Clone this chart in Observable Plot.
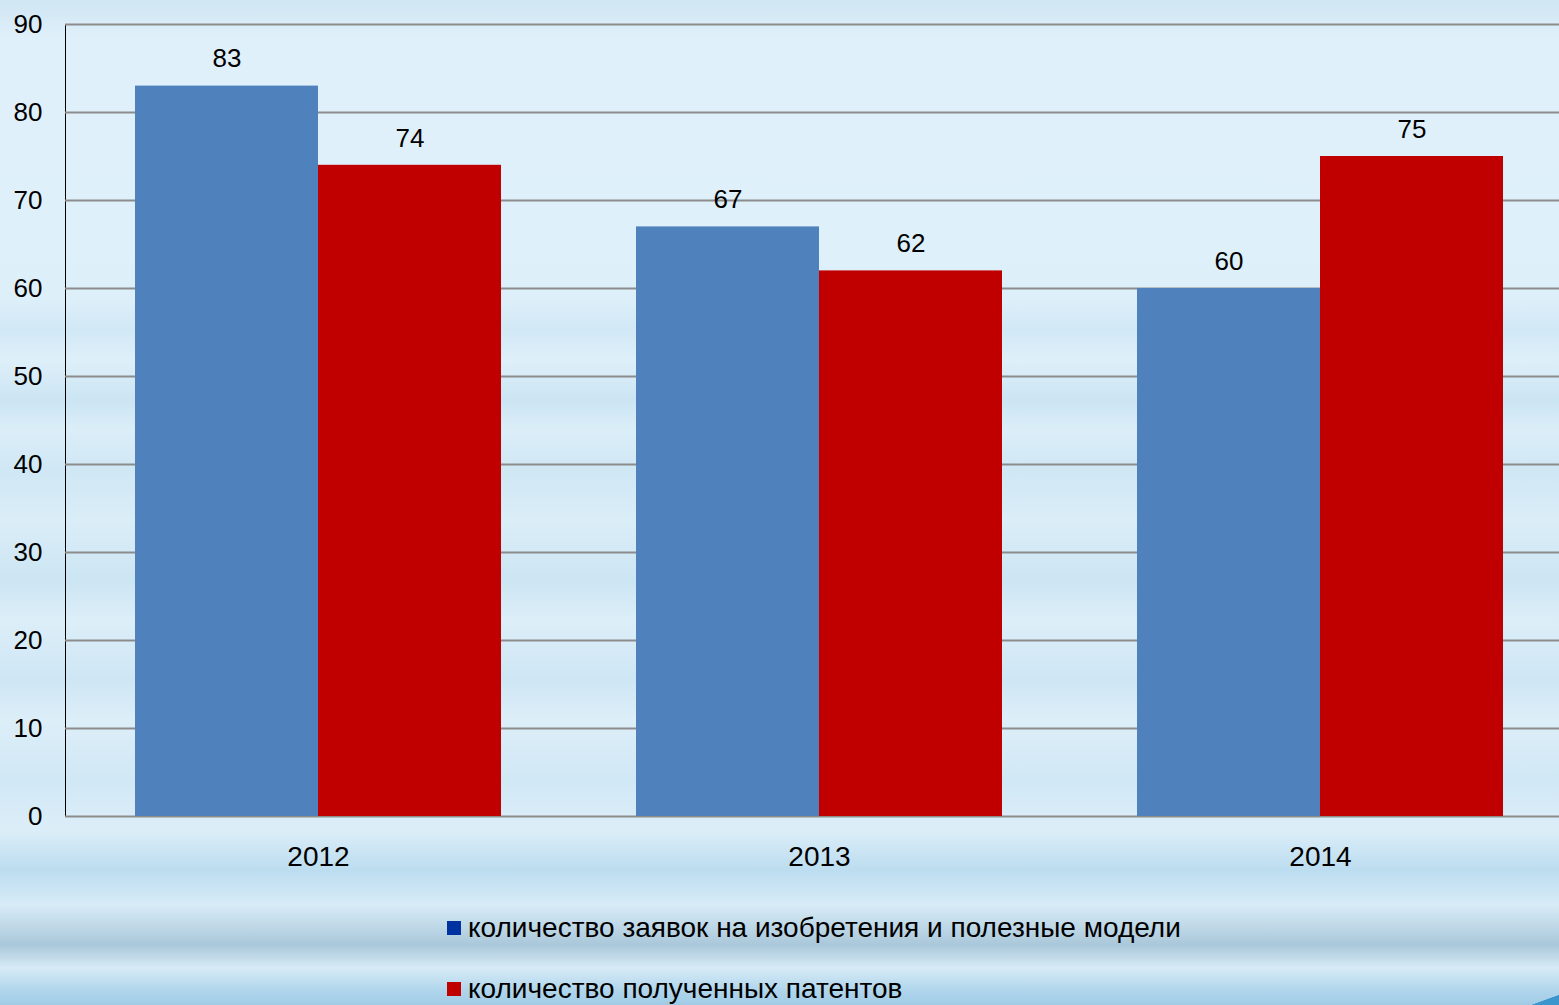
<!DOCTYPE html>
<html>
<head>
<meta charset="utf-8">
<script src="https://cdn.jsdelivr.net/npm/d3@7"></script>
<script src="https://cdn.jsdelivr.net/npm/@observablehq/plot@0.6"></script>
<style>
  html, body { margin: 0; padding: 0; width: 1559px; height: 1005px; overflow: hidden; }
  body {
    position: relative;
    font-family: "Liberation Sans", Arial, sans-serif;
    background:
      linear-gradient(160deg, transparent 0 93%, rgba(40,140,200,0.85) 93.3%) right bottom / 160px 90px no-repeat,
      linear-gradient(180deg,
        rgba(255,255,255,0) 0px, rgba(255,255,255,0) 300px,
        rgba(150,195,225,0.15) 330px, rgba(255,255,255,0.08) 360px,
        rgba(140,190,220,0.18) 400px, rgba(255,255,255,0.05) 430px,
        rgba(160,200,228,0.15) 470px, rgba(255,255,255,0.08) 520px,
        rgba(140,190,220,0.15) 580px, rgba(255,255,255,0.1) 620px,
        rgba(150,195,225,0.15) 680px, rgba(255,255,255,0.1) 720px,
        rgba(160,200,228,0.15) 780px, rgba(255,255,255,0.1) 830px,
        rgba(150,200,230,0.4) 870px, rgba(220,238,248,0.45) 905px,
        rgba(120,160,185,0.45) 945px, rgba(220,238,248,0.55) 968px,
        rgba(150,200,230,0.55) 990px, rgba(130,185,220,0.6) 1005px),
      linear-gradient(180deg, #cfe6f3 0px, #e0f0fa 40px, #def0fa 250px, #d7ecf7 500px, #d9edf8 800px, #cfe6f3 1005px);
  }
  .layer { position: absolute; left: 0; top: 0; }
  .legend { position: absolute; left: 447px; font-family: "Liberation Sans", Arial, sans-serif; font-size: 28px; color: #000; display: flex; align-items: center; white-space: nowrap; }
  .sw { width: 14px; height: 14px; margin-right: 7px; display: inline-block; }
</style>
</head>
<body>
<div id="bg" class="layer"></div>
<div id="fg" class="layer"></div>
<div class="legend" style="top:912px"><span class="sw" style="background:#0033a0"></span>количество заявок на изобретения и полезные модели</div>
<div class="legend" style="top:973px"><span class="sw" style="background:#c00000"></span>количество полученных патентов</div>
<script>
const years = ["2012", "2013", "2014"];
const seriesNames = ["количество заявок на изобретения и полезные модели", "количество полученных патентов"];
const applications = [83, 67, 60];
const patents = [74, 62, 75];
const yTicks = [0, 10, 20, 30, 40, 50, 60, 70, 80, 90];
const barColors = ["#4f81bd", "#c00000"];

const data = years.flatMap((yr, i) => [
  {year: yr, series: seriesNames[0], value: applications[i]},
  {year: yr, series: seriesNames[1], value: patents[i]}
]);

const common = {
  width: 1572,
  height: 880,
  marginLeft: 65,
  marginRight: 0,
  marginTop: 24,
  marginBottom: 64,
  style: {background: "transparent", fontFamily: "'Liberation Sans', Arial, sans-serif", fontSize: "26px", color: "#000", overflow: "visible", maxWidth: "none"}
};

// Background layer: grid, axes, year labels
const bg = Plot.plot({
  ...common,
  x: {type: "band", domain: years, paddingInner: 0.27, paddingOuter: 0.137, axis: null},
  y: {domain: [0, 90], ticks: yTicks, tickSize: 0, tickPadding: 23, line: true, label: null, tickFormat: d => String(d)},
  marks: [
    Plot.ruleY(yTicks, {y: d => d, stroke: "#8c8c8c", strokeWidth: 2}),
    Plot.text(years, {x: d => d, y: 0, text: d => d, dy: 41, fontSize: 28, fill: "#000"})
  ]
});
document.getElementById("bg").appendChild(bg);

// Foreground layer: bars and value labels, faceted by year
const fg = Plot.plot({
  ...common,
  fx: {domain: years, paddingInner: 0.27, paddingOuter: 0.137, axis: null},
  x: {domain: seriesNames, padding: 0, axis: null},
  y: {domain: [0, 90], axis: null},
  color: {domain: seriesNames, range: barColors},
  marks: [
    Plot.barY(data, {fx: "year", x: "series", y: "value", fill: "series"}),
    Plot.text(data, {fx: "year", x: "series", y: "value", text: d => String(d.value), dy: -27, fontSize: 26, fill: "#000"})
  ]
});
document.getElementById("fg").appendChild(fg);
</script>
</body>
</html>
